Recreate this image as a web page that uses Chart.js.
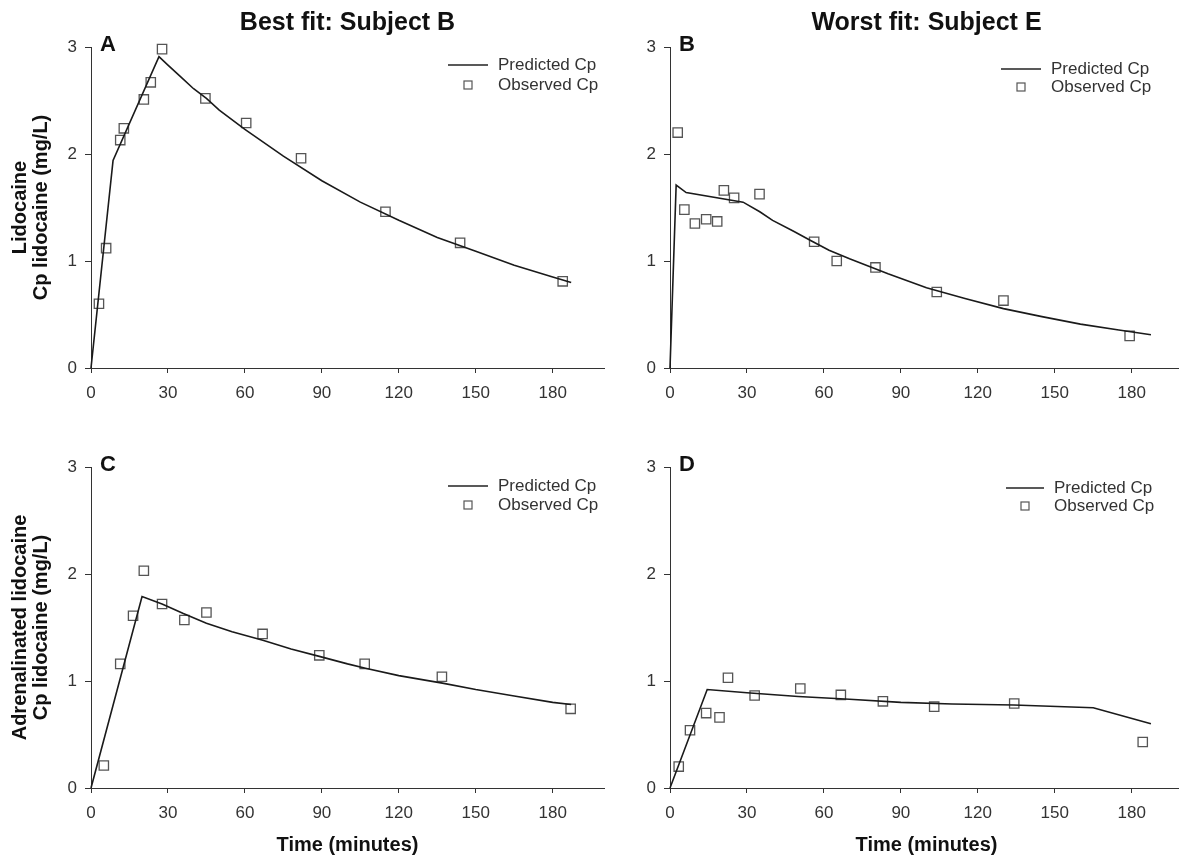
<!DOCTYPE html>
<html>
<head>
<meta charset="utf-8">
<script src="https://cdn.jsdelivr.net/npm/chart.js@4.4.1/dist/chart.umd.min.js"></script>
<style>
  html, body { margin: 0; padding: 0; background: #fff; overflow: hidden; }
  #wrap { position: relative; width: 1179px; height: 861px; overflow: hidden; }
  .panel { position: absolute; }
</style>
</head>
<body>
<div id="wrap">
  <div class="panel" style="left:0px;top:0px"><canvas id="chartA" width="620" height="420"></canvas></div>
  <div class="panel" style="left:579px;top:0px"><canvas id="chartB" width="620" height="420"></canvas></div>
  <div class="panel" style="left:0px;top:420px"><canvas id="chartC" width="620" height="441"></canvas></div>
  <div class="panel" style="left:579px;top:420px"><canvas id="chartD" width="620" height="441"></canvas></div>
</div>
<script>
// ticks
const xTicks = [0, 30, 60, 90, 120, 150, 180];
const yTicks = [0, 1, 2, 3];

// A - lidocaine, subject B
const obsA_t  = [3.1, 5.9, 11.4, 12.8, 20.6, 23.3, 27.7, 44.6, 60.5, 81.9, 114.8, 143.9, 183.9];
const obsA_cp = [0.60, 1.12, 2.13, 2.24, 2.51, 2.67, 2.98, 2.52, 2.29, 1.96, 1.46, 1.17, 0.81];
const predA_t  = [0, 8.6, 26.5, 30, 35, 40, 45, 50, 60, 75, 90, 105, 120, 135, 150, 165, 180, 187.2];
const predA_cp = [0, 1.94, 2.91, 2.83, 2.72, 2.61, 2.52, 2.41, 2.23, 1.98, 1.75, 1.55, 1.38, 1.22, 1.09, 0.96, 0.85, 0.80];

// B - lidocaine, subject E
const obsB_t  = [3.0, 5.6, 9.7, 14.1, 18.4, 21.0, 25.0, 34.9, 56.2, 65.0, 80.1, 104.0, 130.0, 179.2];
const obsB_cp = [2.20, 1.48, 1.35, 1.39, 1.37, 1.66, 1.59, 1.625, 1.18, 1.00, 0.94, 0.71, 0.63, 0.30];
const predB_t  = [0, 2.4, 6.3, 28.5, 35, 40, 48, 55, 62, 70, 85, 100, 115, 130, 145, 160, 175, 187.5];
const predB_cp = [0, 1.71, 1.64, 1.55, 1.46, 1.38, 1.28, 1.19, 1.10, 1.02, 0.88, 0.75, 0.65, 0.555, 0.48, 0.41, 0.355, 0.31];

// C - adrenalinated lidocaine, subject B
const obsC_t  = [5.0, 11.4, 16.4, 20.6, 27.7, 36.4, 45.0, 66.9, 89.0, 106.7, 136.8, 187.0];
const obsC_cp = [0.21, 1.16, 1.61, 2.03, 1.72, 1.57, 1.64, 1.44, 1.24, 1.16, 1.04, 0.74];
const predC_t  = [0, 19.9, 27.7, 36, 45, 55, 67, 78, 89, 100, 107, 120, 137, 150, 165, 180, 187.2];
const predC_cp = [0, 1.79, 1.72, 1.63, 1.54, 1.46, 1.38, 1.30, 1.23, 1.16, 1.12, 1.05, 0.98, 0.92, 0.86, 0.80, 0.78];

// D - adrenalinated lidocaine, subject E
const obsD_t  = [3.4, 7.8, 14.1, 19.3, 22.6, 33.0, 50.8, 66.6, 83.0, 103.0, 134.2, 184.3];
const obsD_cp = [0.20, 0.54, 0.70, 0.66, 1.03, 0.865, 0.93, 0.87, 0.81, 0.76, 0.79, 0.43];
const predD_t  = [0, 14.5, 30, 50, 70, 90, 110, 134, 165, 187.5];
const predD_cp = [0, 0.92, 0.89, 0.855, 0.83, 0.80, 0.785, 0.775, 0.75, 0.60];

const FONT = '"Liberation Sans", Arial, Helvetica, sans-serif';

function pts(t, v) {
  return t.map((x, i) => ({x: x, y: v[i]}));
}

// letter, column heading and legend drawn inside the plot
const panelDecor = {
  id: 'panelDecor',
  afterDraw(chart, args, o) {
    const ctx = chart.ctx, a = chart.chartArea;
    const ds = chart.data.datasets;
    ctx.save();
    ctx.fillStyle = '#111';
    ctx.textBaseline = 'alphabetic';
    if (o.heading) {
      ctx.font = 'bold 25px ' + FONT;
      ctx.textAlign = 'center';
      ctx.fillText(o.heading, (a.left + a.right) / 2, 30);
    }
    ctx.font = 'bold 22px ' + FONT;
    ctx.textAlign = 'left';
    ctx.fillText(o.letter, a.left + 9, a.top + 4);

    // legend
    const lg = o.legend;
    ctx.font = '17px ' + FONT;
    ctx.fillStyle = '#333';
    ctx.textBaseline = 'middle';
    ctx.strokeStyle = '#222';
    ctx.lineWidth = 1.5;
    ctx.beginPath();
    ctx.moveTo(a.left + lg.line0, a.top + lg.y1);
    ctx.lineTo(a.left + lg.line1, a.top + lg.y1);
    ctx.stroke();
    ctx.fillText(ds[0].label, a.left + lg.text, a.top + lg.y1);
    ctx.strokeStyle = '#555';
    ctx.lineWidth = 1.2;
    ctx.strokeRect(a.left + lg.sq - 4, a.top + lg.y2 - 4, 8, 8);
    ctx.fillText(ds[1].label, a.left + lg.text, a.top + lg.y2);
    ctx.restore();
  }
};

function makeChart(id, predT, predV, obsT, obsV, opt) {
  const ctx = document.getElementById(id).getContext('2d');
  return new Chart(ctx, {
    type: 'scatter',
    data: {
      datasets: [
        {
          label: 'Predicted Cp',
          data: pts(predT, predV),
          showLine: true,
          borderColor: '#1a1a1a',
          borderWidth: 1.6,
          pointRadius: 0,
          tension: 0,
          clip: false
        },
        {
          label: 'Observed Cp',
          data: pts(obsT, obsV),
          showLine: false,
          pointStyle: 'rect',
          pointRadius: 6.6,
          borderColor: '#555',
          borderWidth: 1.3,
          backgroundColor: 'rgba(255,255,255,0)',
          clip: false
        }
      ]
    },
    options: {
      responsive: false,
      animation: false,
      events: [],
      layout: { padding: { top: 47, right: 16, left: 0, bottom: 0 } },
      scales: {
        x: {
          type: 'linear',
          min: 0,
          max: 200,
          afterBuildTicks: s => { s.ticks = xTicks.map(v => ({value: v})); },
          afterFit: s => { s.height = opt.xHeight; },
          ticks: { font: { family: FONT, size: 17 }, color: '#333', padding: 10, maxRotation: 0, autoSkip: false },
          grid: { drawOnChartArea: false, drawTicks: true, tickLength: 5, color: '#333' },
          border: { display: true, color: '#333', width: 1 },
          title: {
            display: !!opt.xTitle,
            text: opt.xTitle || '',
            color: '#111',
            font: { family: FONT, size: 20, weight: 'bold' },
            padding: { top: 4, bottom: 4 }
          }
        },
        y: {
          type: 'linear',
          min: 0,
          max: 3,
          afterBuildTicks: s => { s.ticks = yTicks.map(v => ({value: v})); },
          afterFit: s => { s.width = 91; },
          ticks: { font: { family: FONT, size: 17 }, color: '#333', padding: 8 },
          grid: { drawOnChartArea: false, drawTicks: true, tickLength: 6, color: '#333' },
          border: { display: true, color: '#333', width: 1 },
          title: {
            display: !!opt.yTitle,
            text: opt.yTitle || '',
            color: '#111',
            font: { family: FONT, size: 20, weight: 'bold', lineHeight: 1.05 },
            padding: { top: 10, bottom: 0 }
          }
        }
      },
      plugins: {
        legend: { display: false },
        tooltip: { enabled: false },
        panelDecor: { letter: opt.letter, heading: opt.heading, legend: opt.legend }
      }
    },
    plugins: [panelDecor]
  });
}

makeChart('chartA', predA_t, predA_cp, obsA_t, obsA_cp, {
  letter: 'A', heading: 'Best fit: Subject B', xHeight: 52,
  yTitle: ['Lidocaine', 'Cp lidocaine (mg/L)'],
  legend: { line0: 357, line1: 397, sq: 377, text: 407, y1: 18, y2: 38 }
});
makeChart('chartB', predB_t, predB_cp, obsB_t, obsB_cp, {
  letter: 'B', heading: 'Worst fit: Subject E', xHeight: 52,
  legend: { line0: 331, line1: 371, sq: 351, text: 381, y1: 22, y2: 40 }
});
makeChart('chartC', predC_t, predC_cp, obsC_t, obsC_cp, {
  letter: 'C', xHeight: 73, xTitle: 'Time (minutes)',
  yTitle: ['Adrenalinated lidocaine', 'Cp lidocaine (mg/L)'],
  legend: { line0: 357, line1: 397, sq: 377, text: 407, y1: 19, y2: 38 }
});
makeChart('chartD', predD_t, predD_cp, obsD_t, obsD_cp, {
  letter: 'D', xHeight: 73, xTitle: 'Time (minutes)',
  legend: { line0: 336, line1: 374, sq: 355, text: 384, y1: 21, y2: 39 }
});
</script>
</body>
</html>
